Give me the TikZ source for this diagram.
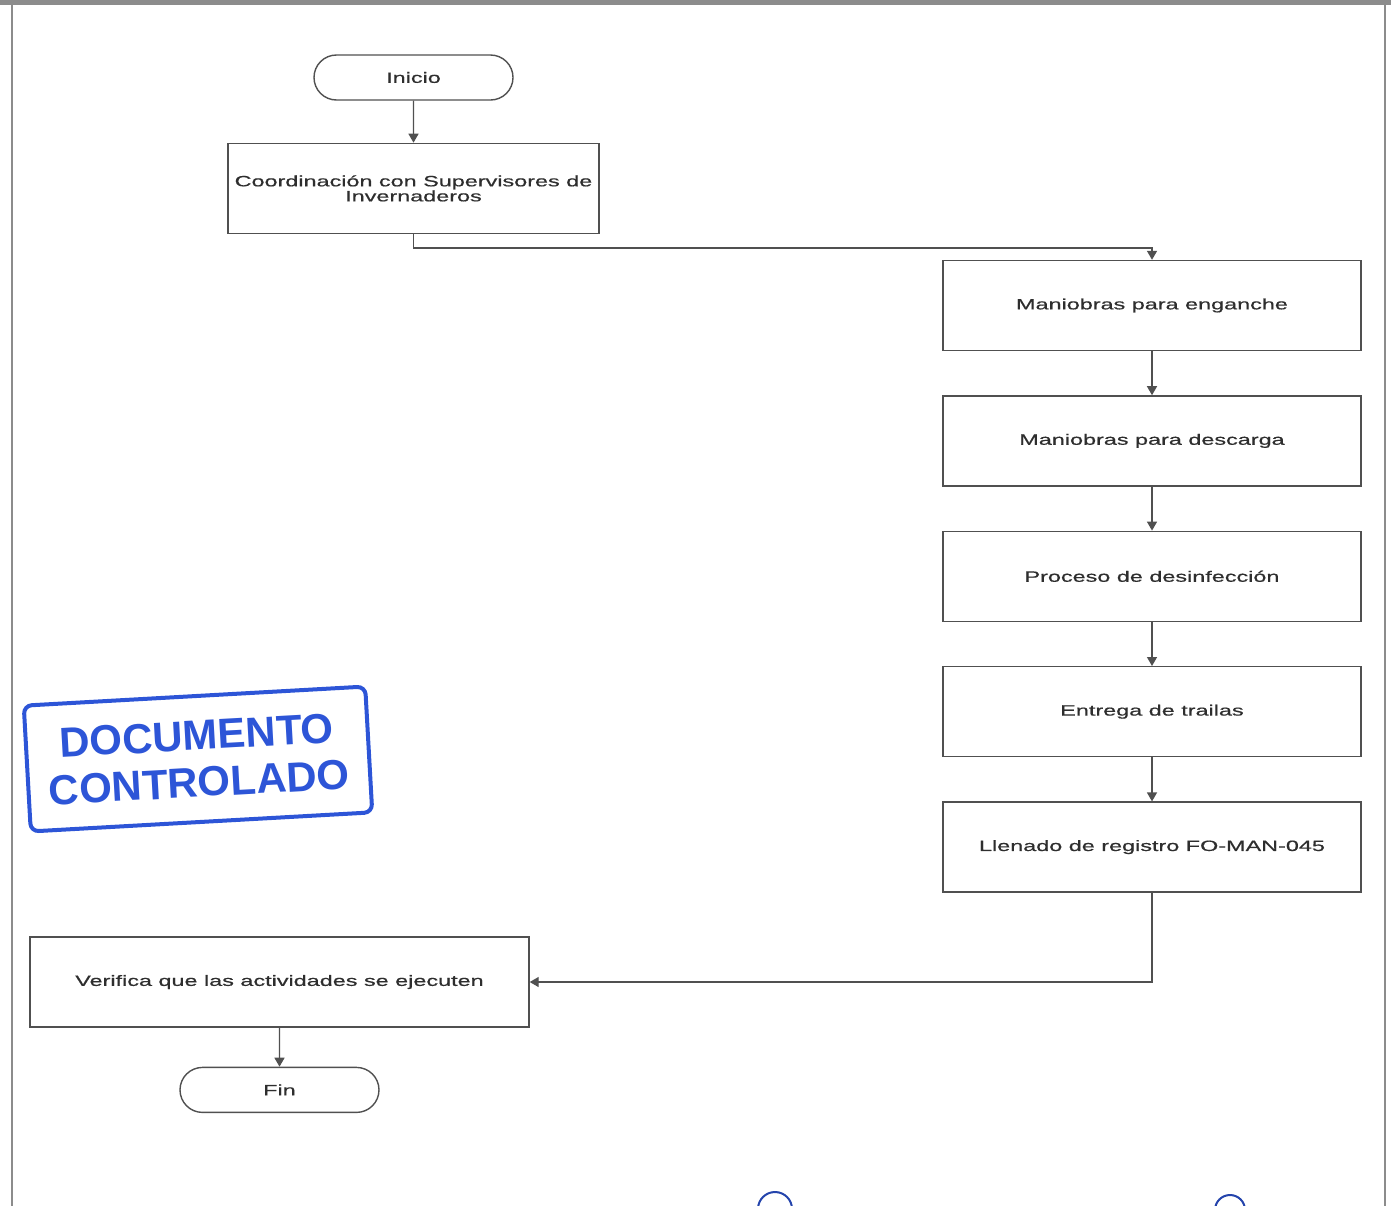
\documentclass[tikz,border=0pt]{standalone}
\usepackage{fontspec}
\usetikzlibrary{positioning}
\usetikzlibrary{shapes.misc}
\usetikzlibrary{arrows.meta}
\newfontfamily\boxfont[FakeStretch=1.56,FakeBold=0.6]{Liberation Sans}
\newfontfamily\stampfont{Liberation Sans}
\definecolor{linegray}{HTML}{505050}
\definecolor{textgray}{HTML}{2E2E2E}
\definecolor{framegray}{HTML}{8C8C8C}
\definecolor{stampblue}{RGB}{45,85,215}

\begin{document}
\begin{tikzpicture}[x=0.5pt, y=-0.5pt, node distance=22pt and 0pt,
  proc/.style={draw=linegray, line width=0.7pt, minimum width=209pt,
    minimum height=45pt, inner sep=2pt, align=center, text=textgray,
    font=\boxfont\fontsize{7.5}{7.5}\selectfont},
  term/.style={draw=linegray, line width=0.7pt, rounded rectangle,
    minimum width=103.5pt, minimum height=22.5pt, inner sep=2pt, text=textgray,
    font=\boxfont\fontsize{7.5}{7.5}\selectfont},
  flow/.style={draw=linegray, line width=0.7pt, -{Triangle[length=4.5pt,width=5pt]}}]
  \useasboundingbox (0,0) rectangle (1391,1205);
  % marco de la hoja
  \draw[framegray, line width=1pt] (12,3) -- (12,1215) (1385,3) -- (1385,1215);
  \draw[framegray, line width=2.5pt] (0,2.5) -- (1391,2.5);
  % nodos
  \node[term] (inicio) at (413.5,77.5) {Inicio};
  \node[proc, minimum width=185.5pt, below=21pt of inicio] (coord)
    {Coordinación con Supervisores de\\Invernaderos};
  \node[proc] (engan) at (1152,305.5) {Maniobras para enganche};
  \node[proc, below=of engan] (desc) {Maniobras para descarga};
  \node[proc, below=of desc] (desinf) {Proceso de desinfección};
  \node[proc, below=of desinf] (entrega) {Entrega de trailas};
  \node[proc, below=of entrega] (llenado) {Llenado de registro FO-MAN-045};
  \node[proc, minimum width=249.5pt] (verif) at (279.5,982)
    {Verifica que las actividades se ejecuten};
  \node[term, below=19.5pt of verif] (fin) {Fin};
  % conectores
  \draw[flow] (inicio) -- (coord);
  \draw[flow] (coord.south) -- ++(0,14) -| (engan.north);
  \foreach \a/\b in {engan/desc, desc/desinf, desinf/entrega, entrega/llenado}
    \draw[flow] (\a) -- (\b);
  \draw[flow] (llenado.south) |- (verif.east);
  \draw[flow] (verif) -- (fin);
  % sello
  \node[draw=stampblue, line width=2pt, rounded corners=4pt, rotate=3.2,
    minimum width=171pt, minimum height=63pt, text=stampblue, align=center,
    font=\stampfont\bfseries\fontsize{21}{23.5}\selectfont] (sello) at (198,759)
    {DOCUMENTO\\CONTROLADO};
  \draw[stampblue!80!black, line width=1pt] (775,1209) circle[radius=8.5pt];
  \draw[stampblue!80!black, line width=1pt] (1230,1210) circle[radius=7.5pt];
\end{tikzpicture}
\end{document}
